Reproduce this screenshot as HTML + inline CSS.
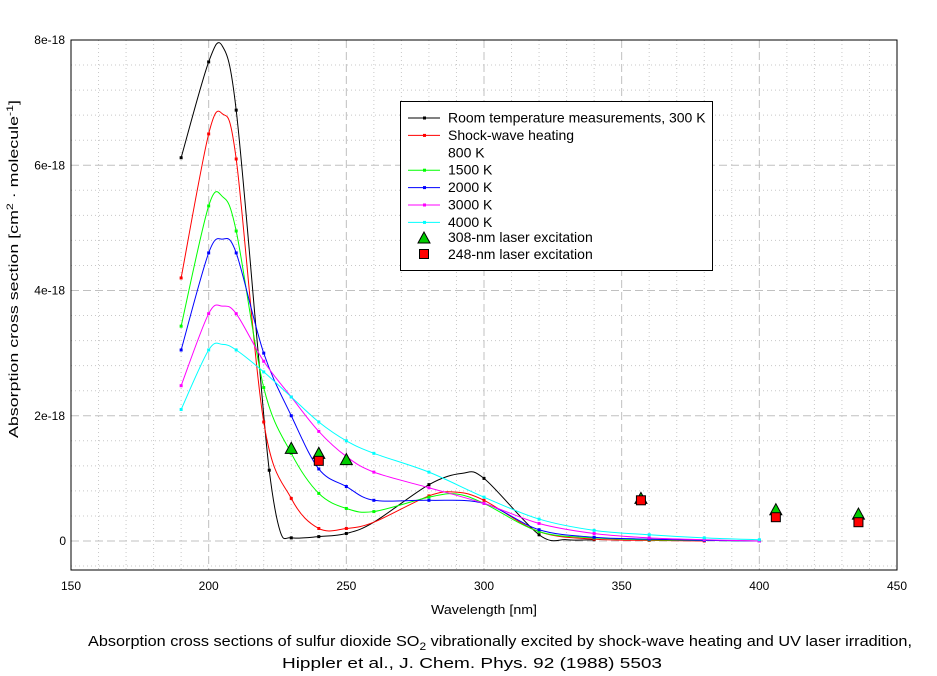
<!DOCTYPE html>
<html><head><meta charset="utf-8"><style>
body{margin:0;background:#fff}
svg{display:block;font-family:"Liberation Sans",Arial,sans-serif}
</style></head><body>
<svg id="s" width="937" height="676" xmlns="http://www.w3.org/2000/svg"></svg>
<script>
const s=document.getElementById('s');
const X=n=>71+(n-150)*2.7533, Y=v=>541-v*62.625;
let h='';
for(let n=160;n<450;n+=10){if(n%50)h+=`<line x1="${X(n)}" y1="40" x2="${X(n)}" y2="570" stroke="#c8c8c8" stroke-dasharray="1,3"/>`;}
for(let v=-0.4;v<8;v+=0.4){let r=Math.round(v*10)/10;if(Math.abs(r/2-Math.round(r/2))>0.01)h+=`<line x1="71" y1="${Y(r)}" x2="897" y2="${Y(r)}" stroke="#c8c8c8" stroke-dasharray="1,3"/>`;}
for(let n=200;n<450;n+=50)h+=`<line x1="${X(n)}" y1="40" x2="${X(n)}" y2="570" stroke="#c0c0c0" stroke-dasharray="8,4"/>`;
for(let v=0;v<8;v+=2)h+=`<line x1="71" y1="${Y(v)}" x2="897" y2="${Y(v)}" stroke="#c0c0c0" stroke-dasharray="8,4"/>`;
h+=`<rect x="71" y="40" width="826" height="530" fill="none" stroke="#000"/>`;
for(let n=150;n<=450;n+=50)h+=`<text x="${X(n)}" y="590" font-size="12" text-anchor="middle">${n}</text>`;
[[0,'0'],[2,'2e-18'],[4,'4e-18'],[6,'6e-18'],[8,'8e-18']].forEach(([v,t])=>{h+=`<text x="${v?65:66}" y="${Y(v)+4}" font-size="12" text-anchor="end">${t}</text>`;});
h+=`<text x="431" y="614" font-size="13" textLength="106" lengthAdjust="spacingAndGlyphs">Wavelength [nm]</text>`;
h+=`<text transform="translate(18,438) rotate(-90)" font-size="13" textLength="338" lengthAdjust="spacingAndGlyphs">Absorption cross section [cm<tspan font-size="9" dy="-5">2</tspan><tspan dy="5"> · molecule</tspan><tspan font-size="9" dy="-5">-1</tspan><tspan dy="5">]</tspan></text>`;
h+=`<text x="88" y="646" font-size="15" textLength="824" lengthAdjust="spacingAndGlyphs">Absorption cross sections of sulfur dioxide SO<tspan font-size="11" dy="4">2</tspan><tspan dy="-4"> vibrationally excited by shock-wave heating and UV laser irradition,</tspan></text>`;
h+=`<text x="282" y="668" font-size="15" textLength="380" lengthAdjust="spacingAndGlyphs">Hippler et al., J. Chem. Phys. 92 (1988) 5503</text>`;
function path(pts,c){
 let P=pts.map(p=>[X(p[0]),Y(p[1])]);let d=`M${P[0][0]},${P[0][1]}`;
 for(let i=0;i<P.length-1;i++){let p0=P[i-1]||P[i],p1=P[i],p2=P[i+1],p3=P[i+2]||p2;
  d+=` C${p1[0]+(p2[0]-p0[0])/6},${p1[1]+(p2[1]-p0[1])/6} ${p2[0]-(p3[0]-p1[0])/6},${p2[1]-(p3[1]-p1[1])/6} ${p2[0]},${p2[1]}`;}
 h+=`<path d="${d}" fill="none" stroke="${c}" stroke-width="1"/>`;
 pts.forEach(p=>{if(p[2]!==0)h+=`<rect x="${X(p[0])-1.5}" y="${Y(p[1])-1.5}" width="3" height="3" fill="${c}"/>`;});
}
path([[190,6.12],[200,7.65],[205,7.9,0],[210,6.88],[218,3.0,0],[222,1.13],[226,0.15,0],[230,0.05],[240,0.07],[250,0.12],[260,0.3,0],[280,0.9],[292,1.08,0],[300,1.0],[320,0.1],[330,0.02,0],[340,0.02]],'#000');
path([[190,4.2],[200,6.5],[205,6.82,0],[210,6.1],[220,1.9],[230,0.68],[240,0.2],[250,0.2],[260,0.3,0],[280,0.72],[290,0.78,0],[300,0.65],[320,0.15],[340,0.03],[360,0.01],[380,0]],'#f00');
path([[190,3.43],[200,5.35],[205,5.5,0],[210,4.95],[220,2.45],[230,1.4],[240,0.76],[250,0.52],[260,0.47],[280,0.7],[290,0.75,0],[300,0.6],[320,0.15],[340,0.05],[360,0.02],[380,0.01],[400,0]],'#0f0');
path([[190,3.05],[200,4.6],[205,4.82,0],[210,4.6],[220,3.0],[230,2.0],[240,1.15],[250,0.87],[260,0.65],[280,0.65],[300,0.6],[320,0.18],[340,0.06],[360,0.03],[380,0.01],[400,0]],'#00f');
path([[190,2.48],[200,3.63],[205,3.75,0],[210,3.63],[220,2.87],[230,2.3],[240,1.75],[250,1.35],[260,1.1],[280,0.85],[300,0.6],[320,0.28],[340,0.12],[360,0.05],[380,0.02],[400,0]],'#f0f');
path([[190,2.1],[200,3.05],[205,3.14,0],[210,3.05],[220,2.7],[230,2.3],[240,1.9],[250,1.6],[260,1.4],[280,1.1],[300,0.7],[320,0.35],[340,0.17],[360,0.1],[380,0.05],[400,0.02]],'#0ff');
const tri=(x,y)=>`<polygon points="${x},${y-6} ${x-6},${y+5} ${x+6},${y+5}" fill="#0c0" stroke="#000"/>`;
const sq=(x,y)=>`<rect x="${x-4.5}" y="${y-4.5}" width="9" height="9" fill="#f00" stroke="#000"/>`;
[[230,1.48],[240,1.4],[250,1.3],[357,0.68],[406,0.5],[436,0.43]].forEach(p=>h+=tri(X(p[0]),Y(p[1])));
[[240,1.28],[357,0.65],[406,0.38],[436,0.3]].forEach(p=>h+=sq(X(p[0]),Y(p[1])));
h+=`<rect x="400.5" y="101.5" width="312" height="169" fill="#fff" stroke="#000"/>`;
const L=[['Room temperature measurements, 300 K','#000',258],['Shock-wave heating','#f00',126],['800 K',null,36],['1500 K','#0f0',45],['2000 K','#00f',45],['3000 K','#f0f',45],['4000 K','#0ff',45]];
L.forEach((l,i)=>{let y=118+i*17.4;if(l[1])h+=`<line x1="408" y1="${y}" x2="440" y2="${y}" stroke="${l[1]}"/><rect x="423" y="${y-1.5}" width="3" height="3" fill="${l[1]}"/>`;h+=`<text x="448" y="${y+4.5}" font-size="14">${l[0]}</text>`;});
h+=tri(424,238)+`<text x="448" y="242" font-size="14">308-nm laser excitation</text>`;
h+=sq(424,254)+`<text x="448" y="259" font-size="14">248-nm laser excitation</text>`;
s.innerHTML=h;
</script>
</body></html>
